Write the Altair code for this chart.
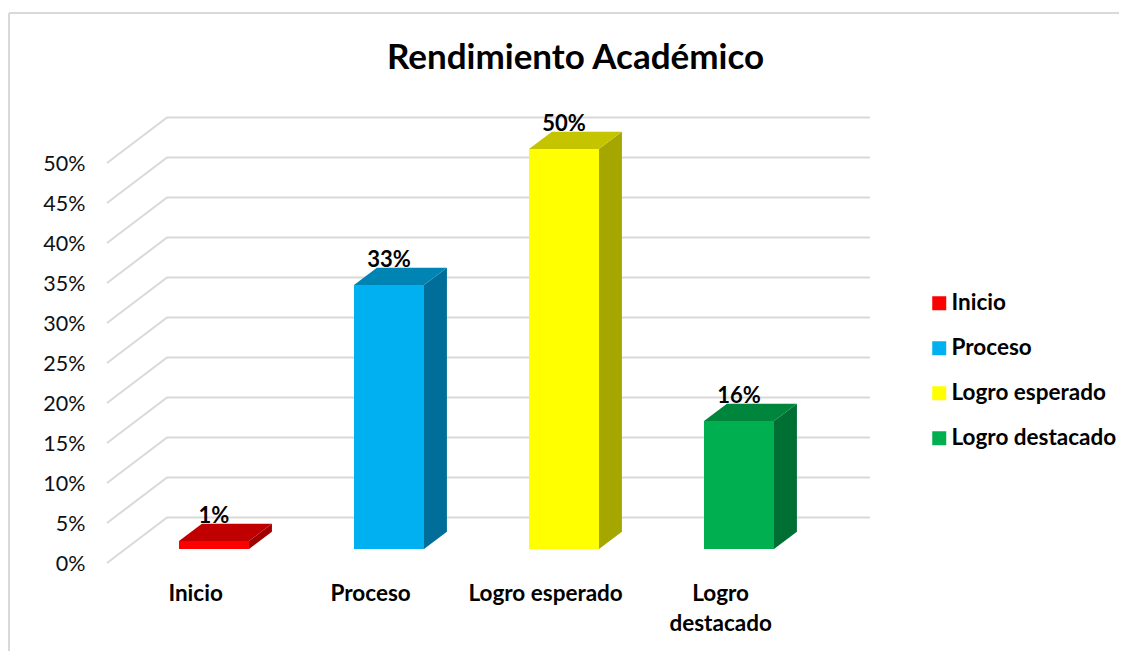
import altair as alt
import pandas as pd

# --- data ---
categories = ["Inicio", "Proceso", "Logro esperado", "Logro destacado"]
axis_labels = ["Inicio", "Proceso", "Logro esperado", "Logro\ndestacado"]
values = [1, 33, 50, 16]
positions = [1, 2, 3, 4]
front_colors = ["#FF0000", "#00B0F0", "#FFFF00", "#00B050"]
top_colors = ["#C00000", "#0084B4", "#C4C400", "#00853D"]
side_colors = ["#A00000", "#006E98", "#A6A600", "#006F33"]
grid_levels = [0, 5, 10, 15, 20, 25, 30, 35, 40, 45, 50]

# --- projection of the fake 3-D (data units) ---
X_MIN, X_MAX = 0.3886, 4.7486
Y_MAX = 55.75
BAR_HALF = 0.2
BAR_DX = 0.131      # bar depth, horizontal
BAR_DY = 2.16       # bar depth, vertical
BAR_BASE = 1.75     # bar front plane lifted above the front floor line
WALL_DX = 0.3429    # wall depth, horizontal
WALL_DY = 5.69      # wall depth, vertical
FONT = "Lato"

xs = alt.Scale(domain=[X_MIN, X_MAX], nice=False, zero=False)
ys = alt.Scale(domain=[0, Y_MAX], nice=False, zero=False)

grid_rows, front_rows, side_rows, top_rows, label_rows, cat_rows = [], [], [], [], [], []
for lv in grid_levels:
    grid_rows += [
        {"lv": lv, "o": 0, "x": X_MIN, "y": lv},
        {"lv": lv, "o": 1, "x": X_MIN + WALL_DX, "y": lv + WALL_DY},
        {"lv": lv, "o": 2, "x": X_MAX, "y": lv + WALL_DY},
    ]
for c, al, v, p, fc, tc, sc in zip(categories, axis_labels, values, positions,
                                   front_colors, top_colors, side_colors):
    l, r = p - BAR_HALF, p + BAR_HALF
    b, t = BAR_BASE, BAR_BASE + v
    front_rows.append({"cat": c, "x": l, "x2": r, "y": b, "y2": t})
    side_rows += [
        {"cat": c, "shade": sc, "x": r, "y": b, "y2": t},
        {"cat": c, "shade": sc, "x": r + BAR_DX, "y": b + BAR_DY, "y2": t + BAR_DY},
    ]
    top_rows += [
        {"cat": c, "shade": tc, "x": l, "y": t, "y2": t},
        {"cat": c, "shade": tc, "x": l + BAR_DX, "y": t, "y2": t + BAR_DY},
        {"cat": c, "shade": tc, "x": r, "y": t, "y2": t + BAR_DY},
        {"cat": c, "shade": tc, "x": r + BAR_DX, "y": t + BAR_DY, "y2": t + BAR_DY},
    ]
    label_rows.append({"x": p, "y": t + 3.1, "t": f"{v}%"})
    cat_rows.append({"x": p - 0.105, "y": -3.85, "t": al})

y_axis = alt.Axis(values=grid_levels, labelExpr="datum.value + '%'", title=None, domain=False,
                  ticks=False, grid=False, labelPadding=22, labelFont=FONT, labelFontSize=21.5,
                  labelColor="#111111", labelOffset=1)
X = alt.X("x:Q", scale=xs, axis=None)
Y = alt.Y("y:Q", scale=ys, stack=None, axis=y_axis)

grid = alt.Chart(pd.DataFrame(grid_rows)).mark_line(color="#D9D9D9", strokeWidth=2).encode(
    x=X, y=Y, detail="lv:N", order="o:Q")
side = alt.Chart(pd.DataFrame(side_rows)).mark_area().encode(
    x=X, y=Y, y2="y2:Q", detail="cat:N", fill=alt.Fill("shade:N", scale=None))
top = alt.Chart(pd.DataFrame(top_rows)).mark_area().encode(
    x=X, y=Y, y2="y2:Q", detail="cat:N", fill=alt.Fill("shade:N", scale=None))
front = alt.Chart(pd.DataFrame(front_rows)).mark_rect().encode(
    x=X, x2="x2:Q", y=Y, y2="y2:Q",
    color=alt.Color("cat:N", sort=categories,
                    scale=alt.Scale(domain=categories, range=front_colors),
                    legend=alt.Legend(
                        title=None, orient="none", legendX=821, legendY=175, padding=0,
                        symbolType="square", symbolSize=196, symbolStrokeWidth=0,
                        labelFont=FONT, labelFontSize=22.5, labelFontWeight="bold",
                        labelColor="#000000", labelOffset=1, rowPadding=22, labelLimit=300)))
val_text = alt.Chart(pd.DataFrame(label_rows)).mark_text(
    font=FONT, fontSize=22, fontWeight="bold", color="#000000", baseline="middle").encode(
    x=X, y=Y, text="t:N")
cat_text = alt.Chart(pd.DataFrame(cat_rows)).mark_text(
    font=FONT, fontSize=22.5, fontWeight="bold", color="#000000", baseline="middle",
    lineBreak="\n", lineHeight=30).encode(x=X, y=Y, text="t:N")

frame_left = alt.Chart(pd.DataFrame({"a": [0]})).mark_rule(color="#D9D9D9", strokeWidth=2).encode(
    x=alt.value(-98), y=alt.value(-104), y2=alt.value(536))
frame_top = alt.Chart(pd.DataFrame({"a": [0]})).mark_rule(color="#D9D9D9", strokeWidth=2).encode(
    y=alt.value(-104), x=alt.value(-98), x2=alt.value(1012))

chart = alt.layer(grid, side, top, front, val_text, cat_text, frame_left, frame_top).properties(
    width=763, height=446,
    padding={"left": 99, "top": 109, "right": 249, "bottom": 88},
    autosize=alt.AutoSizeParams(type="none"),
    title=alt.TitleParams("Rendimiento Académico", font=FONT, fontSize=35, fontWeight="bold",
                          color="#000000", anchor="middle", frame="group", dx=87, offset=-64),
).configure_view(stroke=None)

chart.save("out.html", embed_options={"renderer": "svg", "actions": False})
